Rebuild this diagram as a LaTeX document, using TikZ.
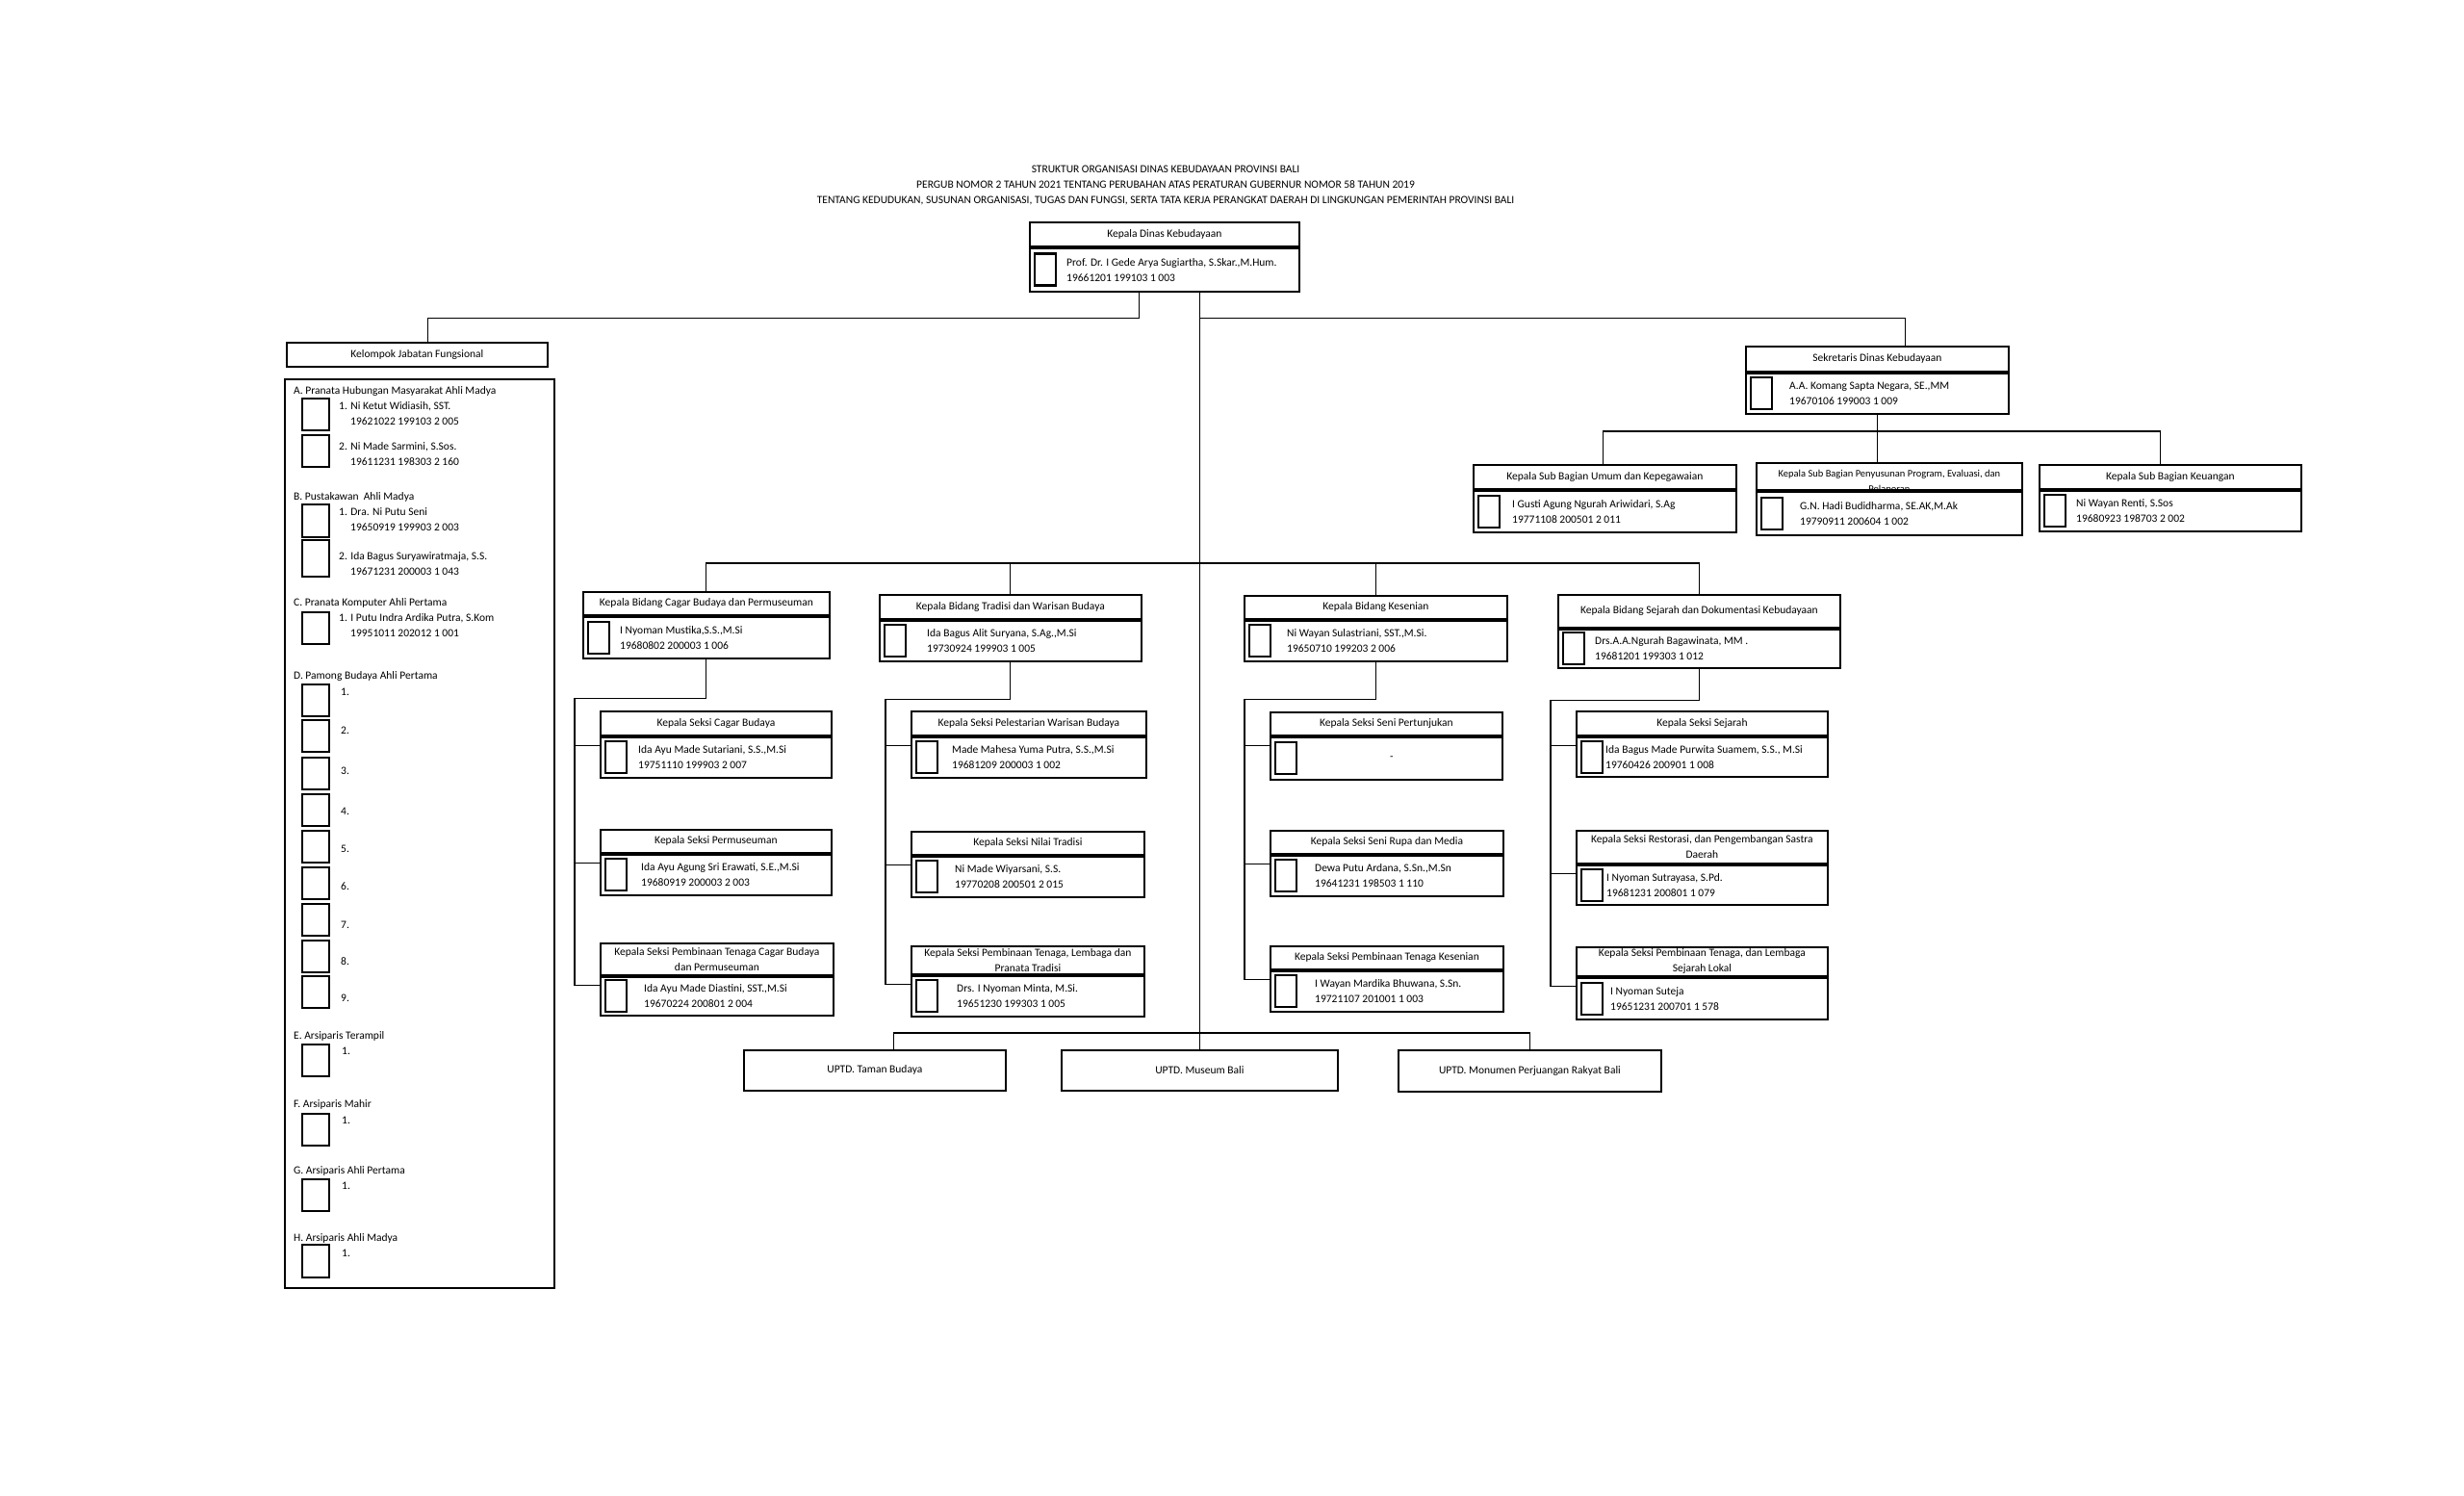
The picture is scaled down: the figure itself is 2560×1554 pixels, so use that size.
\documentclass[tikz,border=0pt]{standalone}
\usepackage{fontspec}
\setmainfont{Carlito}
\newcommand{\teks}{\fontsize{11.5}{16}\selectfont}
% satu jabatan: nama node, kiri, atas, lebar, tinggi judul, tinggi isi, geser teks, judul, pejabat
\newcommand{\jab}[9]{%
  \node[judul, minimum width=#4pt, minimum height=#5pt, anchor=north west] (#1) at (#2,#3) {#8};
  \node[isi, minimum width=#4pt, minimum height=#6pt, anchor=north] (#1-n) at (#1.south) {};
  \node[foto, anchor=west] at ([xshift=5pt]#1-n.west) {};
  \node[nama, anchor=west] at ([xshift=#7pt]#1-n.west) {#9};}
\tikzset{
  garis/.style={line width=1.1pt},
  judul/.style={draw, line width=1.8pt, inner sep=0pt, align=center, font=\teks},
  isi/.style={draw, line width=1.8pt, fill=white, inner sep=0pt},
  foto/.style={draw, line width=2.4pt, minimum width=22pt, minimum height=33pt, inner sep=0pt},
  nama/.style={align=left, inner sep=0pt, font=\teks},
  ket/.style={anchor=west, inner sep=0pt, text height=8pt, text depth=2.5pt, font=\teks},
  kotak/.style={line width=2.4pt},
}
\begin{document}
\begin{tikzpicture}[x=1pt, y=-1pt]
\useasboundingbox[fill=white] (0,0) rectangle (2560,1554);
\node[align=center, inner sep=0pt, font=\teks] (kop) at (1211,193) {STRUKTUR ORGANISASI DINAS KEBUDAYAAN PROVINSI BALI\\PERGUB NOMOR 2 TAHUN 2021 TENTANG PERUBAHAN ATAS PERATURAN GUBERNUR NOMOR 58 TAHUN 2019\\TENTANG KEDUDUKAN, SUSUNAN ORGANISASI, TUGAS DAN FUNGSI, SERTA TATA KERJA PERANGKAT DAERAH DI LINGKUNGAN PEMERINTAH PROVINSI BALI};

% pimpinan dan sekretariat
\jab{kadis}{1069}{230}{280}{25}{45}{39}{Kepala Dinas Kebudayaan}{Prof. Dr. I Gede Arya Sugiartha, S.Skar.,M.Hum.\\19661201 199103 1 003}
\jab{sek}{1813}{359}{273}{26}{42}{46}{Sekretaris Dinas Kebudayaan}{A.A. Komang Sapta Negara, SE.,MM\\19670106 199003 1 009}
\jab{sub1}{1530}{482}{273}{25}{43}{41}{Kepala Sub Bagian Umum dan Kepegawaian}{I Gusti Agung Ngurah Ariwidari, S.Ag\\19771108 200501 2 011}
\node[judul, minimum width=276pt, minimum height=28pt, anchor=north west] (sub2) at (1824,480) {};
\node[align=center, inner sep=0pt, anchor=north, font=\fontsize{10.5}{16}\selectfont] at ([yshift=-8pt]sub2.north) {Kepala Sub Bagian Penyusunan Program, Evaluasi, dan\\Pelaporan};
\node[isi, minimum width=276pt, minimum height=45pt, anchor=north] (sub2-n) at (sub2.south) {};
\node[foto, anchor=west] at ([xshift=5pt]sub2-n.west) {};
\node[nama, anchor=west] at ([xshift=46pt]sub2-n.west) {G.N. Hadi Budidharma, SE.AK,M.Ak\\19790911 200604 1 002};
\jab{sub3}{2118}{482}{272}{25}{42}{39}{Kepala Sub Bagian Keuangan}{Ni Wayan Renti, S.Sos\\19680923 198703 2 002}

% bidang
\jab{b1}{605}{614}{256}{24}{43}{39}{Kepala Bidang Cagar Budaya dan Permuseuman}{I Nyoman Mustika,S.S.,M.Si\\19680802 200003 1 006}
\jab{b2}{913}{617}{272}{25}{42}{50}{Kepala Bidang Tradisi dan Warisan Budaya}{Ida Bagus Alit Suryana, S.Ag.,M.Si\\19730924 199903 1 005}
\jab{b3}{1292}{618}{273}{24}{42}{45}{Kepala Bidang Kesenian}{Ni Wayan Sulastriani, SST.,M.Si.\\19650710 199203 2 006}
\jab{b4}{1618}{617}{293}{34}{40}{39}{Kepala Bidang Sejarah dan Dokumentasi Kebudayaan}{Drs.A.A.Ngurah Bagawinata, MM .\\19681201 199303 1 012}

% seksi
\jab{s11}{623}{738}{240}{25}{42}{40}{Kepala Seksi Cagar Budaya}{Ida Ayu Made Sutariani, S.S.,M.Si\\19751110 199903 2 007}
\jab{s12}{623}{861}{240}{24}{42}{43}{Kepala Seksi Permuseuman}{Ida Ayu Agung Sri Erawati, S.E.,M.Si\\19680919 200003 2 003}
\jab{s13}{623}{979}{242}{33}{40}{46}{Kepala Seksi Pembinaan Tenaga Cagar Budaya\\dan Permuseuman}{Ida Ayu Made Diastini, SST.,M.Si\\19670224 200801 2 004}
\jab{s21}{946}{738}{244}{25}{42}{43}{Kepala Seksi Pelestarian Warisan Budaya}{Made Mahesa Yuma Putra, S.S.,M.Si\\19681209 200003 1 002}
\jab{s22}{946}{863}{242}{24}{42}{46}{Kepala Seksi Nilai Tradisi}{Ni Made Wiyarsani, S.S.\\19770208 200501 2 015}
\jab{s23}{946}{982}{242}{29}{42}{48}{Kepala Seksi Pembinaan Tenaga, Lembaga dan\\Pranata Tradisi}{Drs. I Nyoman Minta, M.Si.\\19651230 199303 1 005}
\jab{s31}{1319}{739}{241}{24}{44}{125}{Kepala Seksi Seni Pertunjukan}{-}
\jab{s32}{1319}{862}{242}{24}{42}{47}{Kepala Seksi Seni Rupa dan Media}{Dewa Putu Ardana, S.Sn.,M.Sn\\19641231 198503 1 110}
\jab{s33}{1319}{982}{242}{24}{42}{47}{Kepala Seksi Pembinaan Tenaga Kesenian}{I Wayan Mardika Bhuwana, S.Sn.\\19721107 201001 1 003}
\jab{s41}{1637}{738}{261}{25}{41}{31}{Kepala Seksi Sejarah}{Ida Bagus Made Purwita Suamem, S.S., M.Si\\19760426 200901 1 008}
\jab{s42}{1637}{862}{261}{34}{41}{32}{Kepala Seksi Restorasi, dan Pengembangan Sastra\\Daerah}{I Nyoman Sutrayasa, S.Pd.\\19681231 200801 1 079}
\jab{s43}{1637}{983}{261}{30}{43}{36}{Kepala Seksi Pembinaan Tenaga, dan Lembaga\\Sejarah Lokal}{I Nyoman Suteja\\19651231 200701 1 578}

% UPTD
\node[judul, minimum width=272pt, minimum height=42pt, anchor=north west] (taman) at (772,1090) {UPTD. Taman Budaya};
\node[judul, minimum width=287pt, minimum height=42pt, anchor=north west] (museum) at (1102,1090) {UPTD. Museum Bali};
\node[judul, minimum width=273pt, minimum height=43pt, anchor=north west] (monumen) at (1452,1090) {UPTD. Monumen Perjuangan Rakyat Bali};

% kelompok jabatan fungsional
\node[judul, minimum width=271pt, minimum height=25pt, anchor=north west] (kjf) at (297,355) {Kelompok Jabatan Fungsional};
\node[isi, minimum width=280pt, minimum height=944pt, anchor=north west] (kjf-n) at (295,393) {};
\foreach \y/\h in {407/{A. Pranata Hubungan Masyarakat Ahli Madya}, 517/{B. Pustakawan\ \ Ahli Madya},
  627/{C. Pranata Komputer Ahli Pertama}, 703/{D. Pamong Budaya Ahli Pertama}, 1077/{E. Arsiparis Terampil},
  1148/{F. Arsiparis Mahir}, 1217/{G. Arsiparis Ahli Pertama}, 1287/{H. Arsiparis Ahli Madya}}
  \node[ket] at (305,\y) {\h};
\foreach \t/\h in {414/33, 452/33, 524/34, 561/38, 636/33, 1085/33, 1157/33, 1225/33, 1293/34}
  \draw[kotak] (314,\t) rectangle ++(28,\h);
\foreach \y/\a/\b in {423/{1. Ni Ketut Widiasih, SST.}/{19621022 199103 2 005},
  465/{2. Ni Made Sarmini, S.Sos.}/{19611231 198303 2 160},
  533/{1. Dra. Ni Putu Seni}/{19650919 199903 2 003},
  579/{2. Ida Bagus Suryawiratmaja, S.S.}/{19671231 200003 1 043},
  643/{1. I Putu Indra Ardika Putra, S.Kom}/{19951011 202012 1 001}}
  {\node[ket] at (352,\y) {\a}; \node[ket] at (364,\y+16) {\b};}
\foreach \t/\l [count=\i] in {711/720, 748/760, 787/802, 825/844, 863/883, 901/922, 939/962, 977/1000, 1014/1038}
  {\draw[kotak] (314,\t) rectangle ++(28,33); \node[ket] at (354,\l) {\i.};}
\foreach \y in {1093, 1165, 1233, 1303}
  \node[ket] at (355,\y) {1.};

% garis
\coordinate (bb) at (0,585);
\coordinate (ub) at (0,1073);
\draw[garis] ([xshift=-26pt]kadis-n.south) -- ++(0,27) -| ([xshift=11pt]kjf.north);
\draw[garis] (kadis-n.south -| museum.north) -- (museum.north);
\draw[garis] (kadis-n.south -| museum.north) ++(0,27) -| ([xshift=29pt]sek.north);
\draw[garis] (sek-n.south) -- (sek-n.south |- sub2.north);
\draw[garis] ([xshift=-2pt]sub1.north) -- ++(0,-34) -| ([xshift=-10pt]sub3.north);
\draw[garis] (b1.north) |- (bb -| b4.north) -- (b4.north);
\foreach \b in {b2, b3} \draw[garis] (\b.north) -- (\b.north |- bb);
\draw[garis] (b1-n.south) -- ++(0,41) -| ([xshift=-26pt,yshift=-10pt]s13-n.north west);
\draw[garis] (b2-n.south) -- ++(0,39) -| ([xshift=-26pt,yshift=-10pt]s23-n.north west);
\draw[garis] (b3-n.south) -- ++(0,39) -| ([xshift=-26pt,yshift=-10pt]s33-n.north west);
\draw[garis] (b4-n.south) -- ++(0,33) -| ([xshift=-26pt,yshift=-10pt]s43-n.north west);
\foreach \s in {s11, s12, s13, s21, s22, s23, s31, s32, s33, s41, s42, s43}
  \draw[garis] ([yshift=-10pt]\s-n.north west) -- ++(-26,0);
\draw[garis] ([xshift=20pt]taman.north) |- (ub -| monumen.north) -- (monumen.north);
\end{tikzpicture}
\end{document}
